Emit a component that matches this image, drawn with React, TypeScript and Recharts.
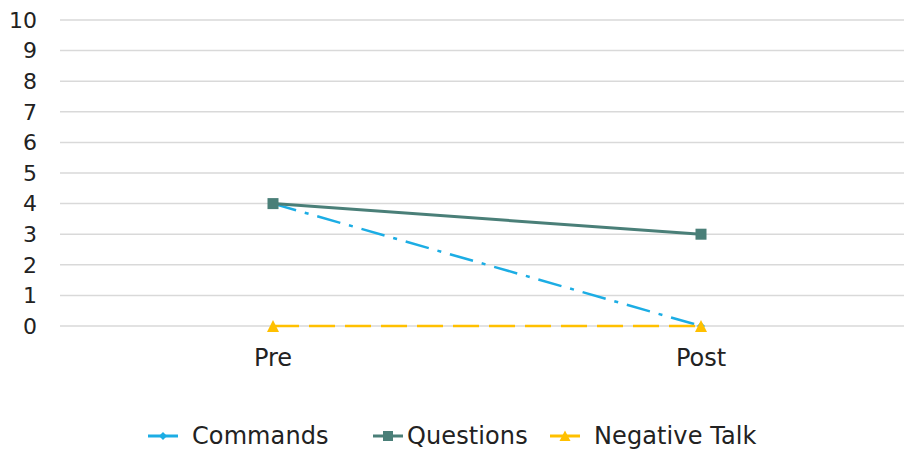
import React from 'react';
import { LineChart, Line, XAxis, YAxis, CartesianGrid } from 'recharts';

const categories = ['Pre', 'Post'];
const commands = [4, 0];
const questions = [4, 3];
const negativeTalk = [0, 0];
const yTicks = [0, 1, 2, 3, 4, 5, 6, 7, 8, 9, 10];

const data = categories.map((c, i) => ({
  name: c,
  Commands: commands[i],
  Questions: questions[i],
  'Negative Talk': negativeTalk[i],
}));

const FONT = '"DejaVu Sans", sans-serif';
const C_BLUE = '#1CADE4';
const C_TEAL = '#4A7F78';
const C_YEL = '#FFC000';

const Diamond = (props: any) => {
  const { cx, cy } = props;
  if (cx == null || cy == null) return null;
  const r = 4;
  return <path d={`M${cx},${cy - r}L${cx + r},${cy}L${cx},${cy + r}L${cx - r},${cy}Z`} fill={C_BLUE} />;
};
const Square = (props: any) => {
  const { cx, cy } = props;
  if (cx == null || cy == null) return null;
  const s = 5.5;
  return <rect x={cx - s} y={cy - s} width={2 * s} height={2 * s} fill={C_TEAL} />;
};
const Triangle = (props: any) => {
  const { cx, cy } = props;
  if (cx == null || cy == null) return null;
  const s = 6;
  return <path d={`M${cx},${cy - s}L${cx + s},${cy + s}L${cx - s},${cy + s}Z`} fill={C_YEL} />;
};

const legendItems = [
  { name: 'Commands', color: C_BLUE, marker: 'diamond', left: 146, gap: 12 },
  { name: 'Questions', color: C_TEAL, marker: 'square', left: 371, gap: 2 },
  { name: 'Negative Talk', color: C_YEL, marker: 'triangle', left: 548, gap: 12 },
];

const LegendBlock = () => (
  <div style={{ position: 'absolute', left: 0, top: 422, width: 904, height: 30, fontFamily: FONT, fontSize: 24, color: '#222', letterSpacing: 0.1 }}>
    {legendItems.map((it) => (
      <div key={it.name} style={{ position: 'absolute', left: it.left, top: 0, display: 'flex', alignItems: 'center', height: 28, whiteSpace: 'nowrap' }}>
        <svg width={34} height={14} style={{ marginRight: it.gap }}>
          <line x1={2} y1={7} x2={32} y2={7} stroke={it.color} strokeWidth={3} />
          {it.marker === 'diamond' && <path d="M17,3L21,7L17,11L13,7Z" fill={it.color} />}
          {it.marker === 'square' && <rect x={12} y={2} width={10} height={10} fill={it.color} />}
          {it.marker === 'triangle' && <path d="M17,1.5L22.5,12L11.5,12Z" fill={it.color} />}
        </svg>
        <span>{it.name}</span>
      </div>
    ))}
  </div>
);

export default function App() {
  return (
    <div style={{ position: 'absolute', left: 0, top: 0, width: 904, height: 452, overflow: 'hidden', background: '#fff' }}>
      <LineChart width={920} height={452} data={data} margin={{ top: 20, right: 6, bottom: 0, left: 0 }}>
        <CartesianGrid vertical={false} stroke="#D9D9D9" strokeWidth={1.5} />
        <XAxis
          dataKey="name"
          axisLine={false}
          tickLine={false}
          tickMargin={17}
          height={126}
          padding={{ left: 213, right: 213 }}
          tick={{ fontFamily: FONT, fontSize: 24, fill: '#222' }}
          interval={0}
        />
        <YAxis
          domain={[0, 10]}
          ticks={yTicks}
          interval={0}
          width={60}
          axisLine={false}
          tickLine={false}
          tickMargin={17}
          tick={{ fontFamily: FONT, fontSize: 22, fill: '#222' }}
        />
        <Line
          dataKey="Commands"
          stroke={C_BLUE}
          strokeWidth={2.5}
          strokeDasharray="24 9 4 9"
          dot={<Diamond />}
          isAnimationActive={false}
          activeDot={false}
        />
        <Line
          dataKey="Questions"
          stroke={C_TEAL}
          strokeWidth={3}
          dot={<Square />}
          isAnimationActive={false}
          activeDot={false}
        />
        <Line
          dataKey="Negative Talk"
          stroke={C_YEL}
          strokeWidth={2.5}
          strokeDasharray="26 10"
          dot={<Triangle />}
          isAnimationActive={false}
          activeDot={false}
        />
      </LineChart>
      <LegendBlock />
    </div>
  );
}
